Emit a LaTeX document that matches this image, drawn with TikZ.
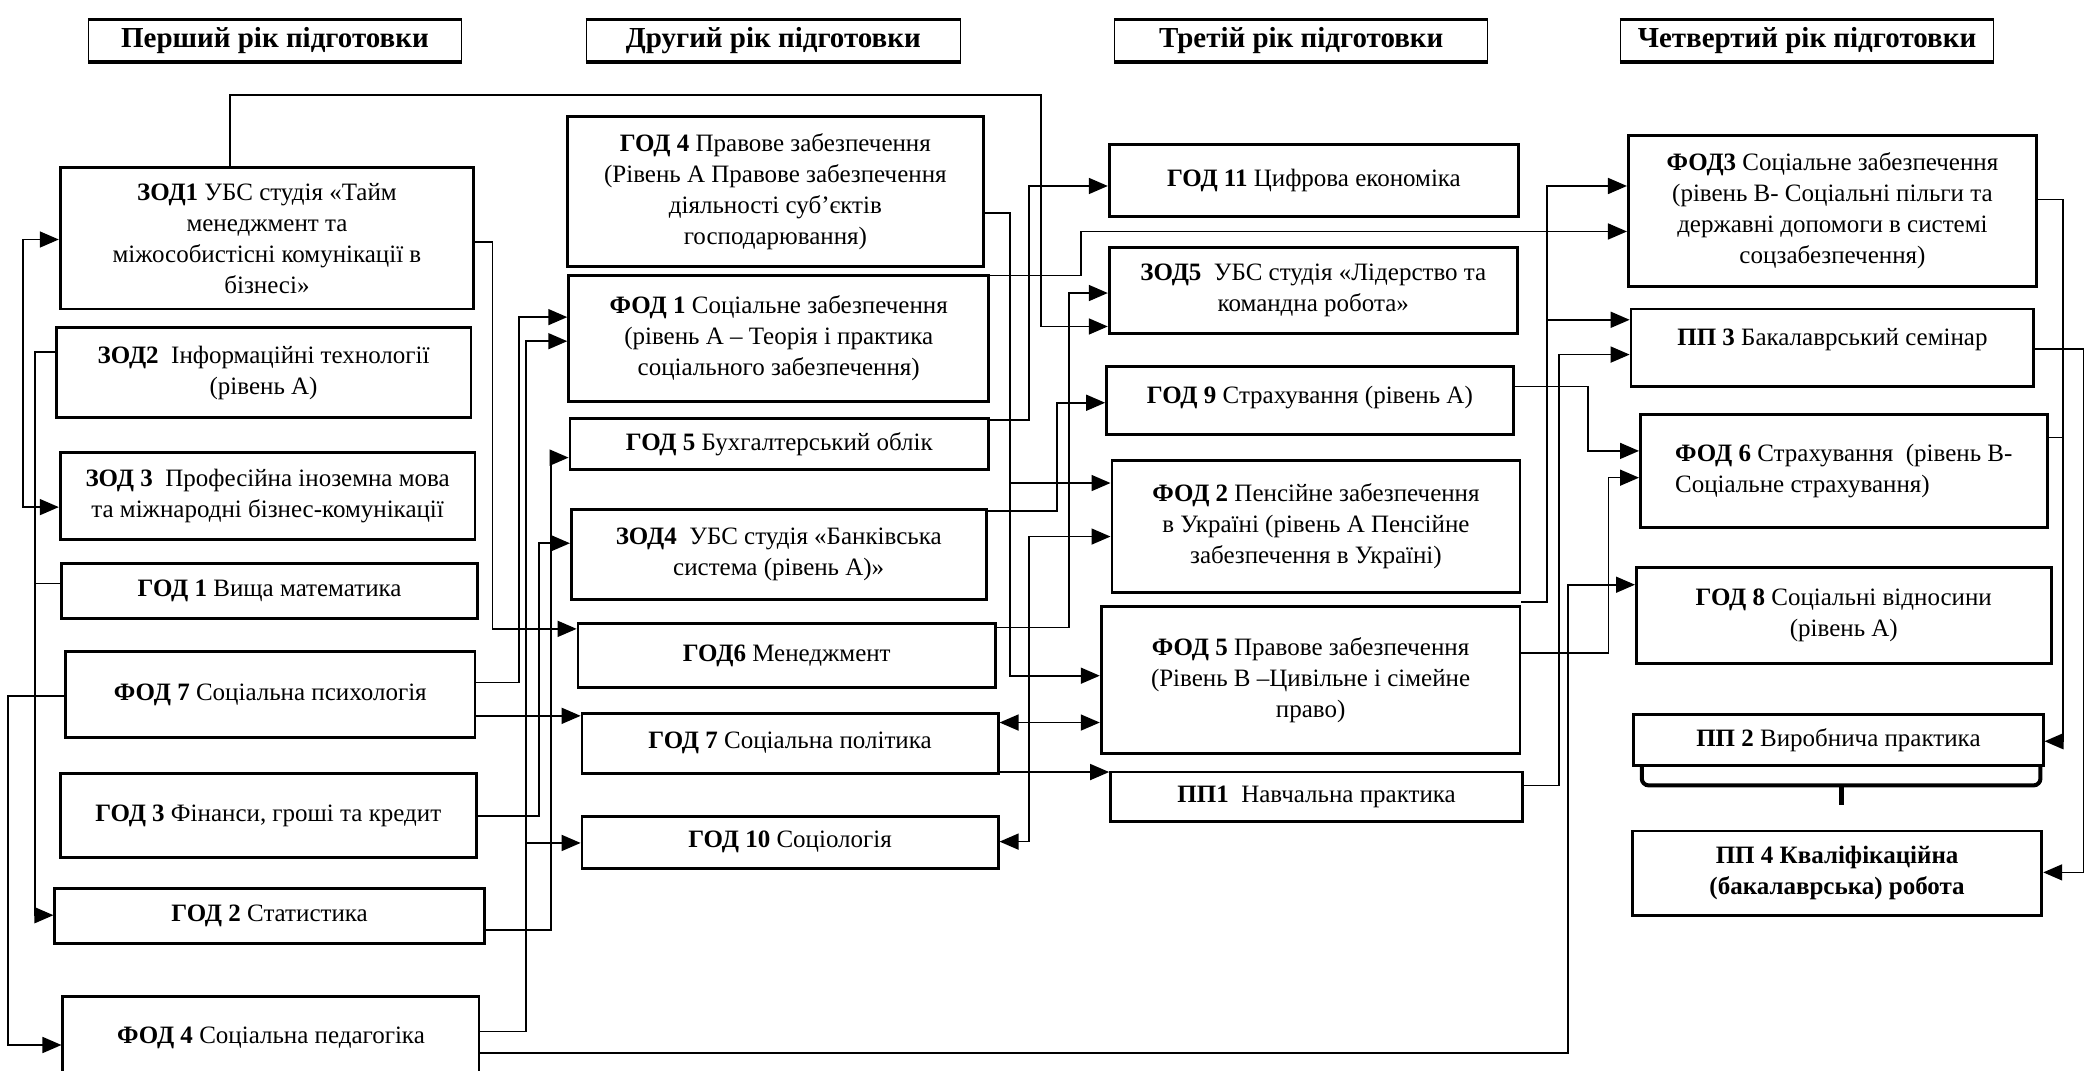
\documentclass[tikz,border=0pt]{standalone}
\usepackage{fontspec}
\setmainfont{Liberation Serif}
\usetikzlibrary{arrows.meta}
\newcommand\mkbox[7][]{\node[bx,minimum width={(#4-#3)*1.338pt},minimum height={(#6-#5)*1.338pt},#1] (#2) at ({(#3+#4)/2},{(#5+#6)/2}) {#7};}
\begin{document}
\begin{tikzpicture}[x=1.338pt,y=-1.338pt,
 bx/.style={draw,line width=2.8pt,inner sep=0pt,align=center,font=\fontsize{25}{31}\selectfont},
 hd/.style={line width=1pt,font=\bfseries\fontsize{29}{34}\selectfont},
 ln/.style={line width=1.6pt},
 arr/.style={ln,-{Triangle[length=19pt,width=16pt]}},
 arrb/.style={ln,{Triangle[length=19pt,width=16pt]}-{Triangle[length=19pt,width=16pt]}},
 thk/.style={line width=4pt}]
\useasboundingbox[fill=white] (0,0) rectangle (1568,800);

% headers
\mkbox[hd]{h1}{66}{345}{15}{46}{Перший рік підготовки}
\mkbox[hd]{h2}{438}{718}{15}{46}{Другий рік підготовки}
\mkbox[hd]{h3}{833}{1112}{15}{46}{Третій рік підготовки}
\mkbox[hd]{h4}{1211}{1490}{15}{46}{Четвертий рік підготовки}
\foreach \h in {h1,h2,h3,h4}{
  \draw[line width=4.5pt] (\h.south west) -- (\h.south east);
  \draw[line width=2.4pt] (\h.north west) -- (\h.north east);}

% column 1
\mkbox{zod1}{45}{354}{125}{231}{\textbf{ЗОД1} УБС студія «Тайм\\менеджмент та\\міжособистісні комунікації в\\бізнесі»}
\mkbox{zod2}{42}{352}{245}{312}{\textbf{ЗОД2}~ Інформаційні технології\\(рівень А)}
\mkbox{zod3}{45}{355}{338}{403}{\textbf{ЗОД 3}~ Професійна іноземна мова\\та міжнародні бізнес-комунікації}
\mkbox{god1}{46}{357}{421}{462}{\textbf{ГОД 1} Вища математика}
\mkbox{fod7}{49}{355}{487}{551}{\textbf{ФОД 7} Соціальна психологія}
\mkbox{god3}{45}{356}{578}{641}{\textbf{ГОД 3} Фінанси, гроші та кредит}
\mkbox{god2}{41}{362}{664}{705}{\textbf{ГОД 2} Статистика}
\mkbox{fod4}{47}{358}{745}{806}{\textbf{ФОД 4} Соціальна педагогіка}

% column 2
\mkbox{god4}{424}{735}{87}{199}{\textbf{ГОД 4} Правове забезпечення\\(Рівень А Правове забезпечення\\діяльності суб'єктів\\господарювання)}
\mkbox{fod1}{425}{739}{206}{300}{\textbf{ФОД 1} Соціальне забезпечення\\(рівень А – Теорія і практика\\соціального забезпечення)}
\mkbox{god5}{426}{739}{313}{351}{\textbf{ГОД 5} Бухгалтерський облік}
\mkbox{zod4}{427}{737}{381}{448}{\textbf{ЗОД4}~ УБС студія «Банківська\\система (рівень А)»}
\mkbox{god6}{432}{744}{466}{514}{\textbf{ГОД6} Менеджмент}
\mkbox{god7}{435}{746}{533}{578}{\textbf{ГОД 7} Соціальна політика}
\mkbox{god10}{435}{746}{610}{649}{\textbf{ГОД 10} Соціологія}

% column 3
\mkbox{god11}{829}{1135}{108}{162}{\textbf{ГОД 11} Цифрова економіка}
\mkbox{zod5}{829}{1134}{185}{249}{\textbf{ЗОД5}~ УБС студія «Лідерство та\\командна робота»}
\mkbox[text depth=12pt]{god9}{827}{1131}{274}{325}{\textbf{ГОД 9} Страхування (рівень А)}
\mkbox{fod2}{831}{1136}{344}{443}{\textbf{ФОД 2} Пенсійне забезпечення\\в Україні (рівень А Пенсійне\\забезпечення в Україні)}
\mkbox{fod5}{823}{1136}{453}{563}{\textbf{ФОД 5} Правове забезпечення\\(Рівень В –Цивільне і сімейне\\право)}
\mkbox{pp1}{830}{1138}{577}{614}{\textbf{ПП1}~ Навчальна практика}

% column 4
\mkbox{fod3}{1217}{1522}{101}{214}{\textbf{ФОД3} Соціальне забезпечення\\(рівень В- Соціальні пільги та\\державні допомоги в системі\\соцзабезпечення)}
\mkbox[text depth=22pt]{pp3}{1219}{1520}{231}{289}{\textbf{ПП 3} Бакалаврський семінар}
\mkbox[align=left]{fod6}{1226}{1530}{310}{394}{\textbf{ФОД 6} Страхування\ \ (рівень В-\\Соціальне страхування)}
\mkbox{god8}{1223}{1533}{424}{496}{\textbf{ГОД 8} Соціальні відносини\\(рівень А)}
\mkbox{pp2}{1221}{1527}{534}{572}{\textbf{ПП 2} Виробнича практика}
\mkbox{pp4}{1220}{1526}{621}{684}{\textbf{ПП 4 Кваліфікаційна}\\\textbf{(бакалаврська) робота}}

% brace under PP2
\draw[thk,rounded corners=7pt] (1227,572) -- (1227,587) -- (1525,587) -- (1525,572);
\draw[line width=5pt] (1376,587) -- (1376,602);

% left of column 1
\draw[arrb] (zod1.west|-0,179) -- (17,179) -- (17,379) -- (zod3.west|-0,379);
\draw[arr] (zod2.west|-0,263) -- (26,263) -- (26,684) -- (god2.west|-0,684);
\draw[ln] (god1.west|-0,436) -- (26,436);
\draw[arr] (fod7.west|-0,520) -- (6,520) -- (6,781) -- (fod4.west|-0,781);

% column 1 -> column 2
\draw[arr] (zod1.east|-0,181) -- (368,181) -- (368,470) -- (god6.west|-0,470);
\draw[arr] (fod7.east|-0,510) -- (388,510) -- (388,237) -- (fod1.west|-0,237);
\draw[arr] (fod7.east|-0,535) -- (god7.west|-0,535);
\draw[arr] (god3.east|-0,610) -- (403,610) -- (403,406) -- (zod4.west|-0,406);
\draw[arr] (god2.east|-0,695) -- (412,695) -- (412,342) -- (god5.west|-0,342);
\draw[arr] (fod4.east|-0,771) -- (393,771) -- (393,255) -- (fod1.west|-0,255);
\coordinate (j1) at (393,630);
\draw[arr] (j1) -- (god10.west|-0,630);
\draw[arr] (fod4.east|-0,787) -- (1172,787) -- (1172,437) -- (god8.west|-0,437);
\draw[arr] (zod1.north-|172,0) -- (172,71) -- (778,71) -- (778,244) -- (zod5.west|-0,244);

% column 2 -> column 3
\draw[arr] (god4.east|-0,159) -- (755,159) -- (755,505) -- (fod5.west|-0,505);
\coordinate (j2) at (755,361);
\draw[arr] (j2) -- (fod2.west|-0,361);
\draw[arr] (fod1.east|-0,206) -- (808,206) -- (808,173) -- (fod3.west|-0,173);
\draw[arr] (god5.east|-0,314) -- (769,314) -- (769,139) -- (god11.west|-0,139);
\draw[arr] (zod4.east|-0,382) -- (790,382) -- (790,301) -- (god9.west|-0,301);
\draw[arr] (god6.east|-0,469) -- (799,469) -- (799,219) -- (zod5.west|-0,219);
\draw[arrb] (god10.east|-0,629) -- (769,629) -- (769,401) -- (fod2.west|-0,401);
\draw[arrb] (god7.east|-0,540) -- (fod5.west|-0,540);
\draw[arr] (god7.east|-0,577) -- (pp1.west|-0,577);

% column 3 -> column 4
\draw[arr] (fod2.east|-0,450) -- (1156,450) -- (1156,139) -- (fod3.west|-0,139);
\coordinate (j3) at (1156,239);
\draw[arr] (j3) -- (pp3.west|-0,239);
\draw[arr] (pp1.east|-0,587) -- (1165,587) -- (1165,265) -- (pp3.west|-0,265);
\draw[arr] (god9.east|-0,289) -- (1187,289) -- (1187,337) -- (fod6.west|-0,337);
\draw[arr] (fod5.east|-0,488) -- (1202,488) -- (1202,357) -- (fod6.west|-0,357);

% right of column 4
\draw[arr] (fod3.east|-0,149) -- (1542,149) -- (1542,554) -- (pp2.east|-0,554);
\draw[ln] (fod6.east|-0,327) -- (1542,327);
\draw[arr] (pp3.east|-0,261) -- (1557,261) -- (1557,652) -- (pp4.east|-0,652);
\end{tikzpicture}
\end{document}
